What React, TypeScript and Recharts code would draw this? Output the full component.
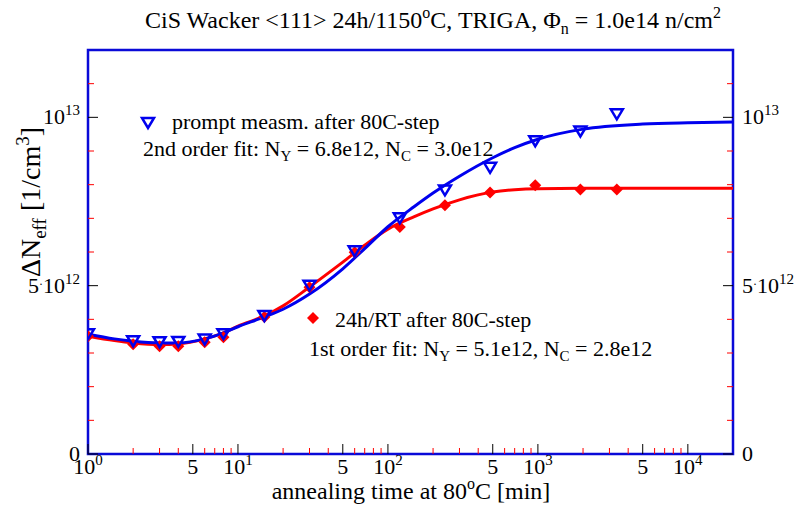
import React from 'react';
import { ComposedChart, Line, Scatter, XAxis, YAxis, ReferenceArea } from 'recharts';

// measurement times [min] at 80C
const annealTime = [1, 2, 3, 4, 6, 8, 15, 30, 60, 120, 240, 480, 960, 1920, 3360];
// prompt measurement after 80C step (triangles)
const promptNeff = [3.56e12, 3.35e12, 3.32e12, 3.33e12, 3.4e12, 3.56e12, 4.1e12, 5.0e12, 6.02e12, 7.0e12, 7.83e12, 8.5e12, 9.29e12, 9.58e12, 10.09e12];
// 24h at RT after 80C step (diamonds)
const rtNeff = [3.5e12, 3.26e12, 3.2e12, 3.2e12, 3.32e12, 3.47e12, 4.07e12, 4.95e12, 5.99e12, 6.74e12, 7.39e12, 7.77e12, 7.98e12, 7.86e12, 7.86e12];

// fit curves
const fitTime = [1, 1.5, 2, 3, 4, 6, 8, 10, 15, 20, 30, 50, 70, 100, 150, 200, 300, 500, 700, 1000, 2000, 5000, 10000, 20000];
const fit2nd = [3.56e12, 3.42e12, 3.35e12, 3.3e12, 3.3e12, 3.42e12, 3.6e12, 3.78e12, 4.07e12, 4.3e12, 4.75e12, 5.5e12, 6.1e12, 6.75e12, 7.35e12, 7.75e12, 8.25e12, 8.8e12, 9.1e12, 9.35e12, 9.65e12, 9.8e12, 9.84e12, 9.86e12];
const fit1st = [3.5e12, 3.37e12, 3.3e12, 3.25e12, 3.27e12, 3.42e12, 3.6e12, 3.8e12, 4.1e12, 4.4e12, 4.96e12, 5.7e12, 6.2e12, 6.68e12, 7.05e12, 7.28e12, 7.55e12, 7.78e12, 7.85e12, 7.88e12, 7.89e12, 7.89e12, 7.89e12, 7.89e12];

const xTicks = [1, 2, 3, 4, 5, 6, 7, 8, 9, 10, 20, 30, 40, 50, 60, 70, 80, 90, 100, 200, 300, 400, 500, 600, 700, 800, 900, 1000, 2000, 3000, 4000, 5000, 6000, 7000, 8000, 9000, 10000];
const xMajor = [1, 5, 10, 50, 100, 500, 1000, 5000, 10000];
const xExp: Record<number, string> = { 1: '0', 10: '1', 100: '2', 1000: '3', 10000: '4' };
const yTicks = [0, 1e12, 2e12, 3e12, 4e12, 5e12, 6e12, 7e12, 8e12, 9e12, 1e13, 1.1e13];

const FONT = '"Liberation Serif", "Times New Roman", serif';
const BLUE = '#0000ee';
const RED = '#ff0000';
const FRAME = '#0a0ad8';

const toPts = (xs: number[], ys: number[]) => xs.map((x, i) => ({ x, y: ys[i] }));
const promptData = toPts(annealTime, promptNeff);
const rtData = toPts(annealTime, rtNeff);
const fit2Data = toPts(fitTime, fit2nd);
const fit1Data = toPts(fitTime, fit1st);

const Tri = ({ cx, cy }: any) => (
  <path d={`M${cx - 6},${cy - 5} L${cx + 6},${cy - 5} L${cx},${cy + 5} Z`} fill="none" stroke={BLUE} strokeWidth={2.5} />
);
const Diamond = ({ cx, cy }: any) => (
  <path d={`M${cx},${cy - 6} L${cx + 6},${cy} L${cx},${cy + 6} L${cx - 6},${cy} Z`} fill={RED} stroke="none" />
);

const XTick = (props: any) => {
  const { x, y, payload } = props;
  const v = payload.value;
  const major = xMajor.includes(v);
  return (
    <g>
      <line x1={x} y1={y} x2={x} y2={y - (major ? 10 : 6)} stroke={major ? '#000' : RED} strokeWidth={1} />
      {major && (
        <text x={x} y={y + 20} textAnchor="middle" fontFamily={FONT} fontSize={22} fill="#000">
          {xExp[v] !== undefined ? (
            <>
              10<tspan dy={-9} fontSize={15}>{xExp[v]}</tspan>
            </>
          ) : '5'}
        </text>
      )}
    </g>
  );
};

const yLabel = (v: number) => {
  if (v === 0) return '0';
  if (v === 5e12) return (
    <>
      5<tspan fontSize={12} dy={-5}>·</tspan><tspan dy={5}>10</tspan><tspan dy={-9} fontSize={15}>12</tspan>
    </>
  );
  return (
    <>
      10<tspan dy={-9} fontSize={15}>13</tspan>
    </>
  );
};

const isMajorY = (v: number) => v === 0 || v === 5e12 || v === 1e13;

const LeftTick = (props: any) => {
  const { x, y, payload } = props;
  const major = isMajorY(payload.value);
  return (
    <g>
      <line x1={x} y1={y} x2={x + (major ? 10 : 6)} y2={y} stroke={major ? '#000' : RED} strokeWidth={1} />
      {major && (
        <text x={x - 8} y={y + 7} textAnchor="end" fontFamily={FONT} fontSize={22} fill="#000">
          {yLabel(payload.value)}
        </text>
      )}
    </g>
  );
};

const RightTick = (props: any) => {
  const { x, y, payload } = props;
  const major = isMajorY(payload.value);
  return (
    <g>
      <line x1={x} y1={y} x2={x - (major ? 10 : 6)} y2={y} stroke={major ? '#000' : RED} strokeWidth={1} />
      {major && (
        <text x={x + 9} y={y + 7} textAnchor="start" fontFamily={FONT} fontSize={22} fill="#000">
          {yLabel(payload.value)}
        </text>
      )}
    </g>
  );
};

export default function App() {
  return (
    <div style={{ position: 'absolute', left: 0, top: 0, width: 795, height: 508, background: '#fff' }}>
      <ComposedChart width={795} height={508} margin={{ top: 50, right: 0, bottom: 0, left: 0 }}>
        <XAxis
          dataKey="x"
          type="number"
          scale="log"
          domain={[1, 20000]}
          allowDataOverflow
          ticks={xTicks}
          interval={0}
          tickSize={0}
          tickMargin={0}
          tickLine={false}
          axisLine={false}
          tick={<XTick />}
          height={54}
        />
        <YAxis
          yAxisId="l"
          dataKey="y"
          type="number"
          domain={[0, 1.2e13]}
          allowDataOverflow
          ticks={yTicks}
          interval={0}
          tickSize={0}
          tickMargin={0}
          tickLine={false}
          axisLine={false}
          tick={<LeftTick />}
          width={88}
        />
        <YAxis
          yAxisId="r"
          orientation="right"
          type="number"
          domain={[0, 1.2e13]}
          allowDataOverflow
          ticks={yTicks}
          interval={0}
          tickSize={0}
          tickMargin={0}
          tickLine={false}
          axisLine={false}
          tick={<RightTick />}
          width={62}
        />
        <Line yAxisId="l" data={fit1Data} dataKey="y" type="monotone" stroke={RED} strokeWidth={3} dot={false} isAnimationActive={false} />
        <Line yAxisId="l" data={fit2Data} dataKey="y" type="monotone" stroke={BLUE} strokeWidth={3} dot={false} isAnimationActive={false} />
        <Scatter yAxisId="l" data={rtData} dataKey="y" shape={<Diamond />} isAnimationActive={false} />
        <Scatter yAxisId="l" data={promptData} dataKey="y" shape={<Tri />} isAnimationActive={false} />
        <ReferenceArea yAxisId="l" x1={1} x2={20000} y1={0} y2={1.2e13} fill="none" stroke={FRAME} strokeWidth={2.5} />

        <text x={433} y={28} textAnchor="middle" fontFamily={FONT} fontSize={24} fill="#000">
          CiS Wacker &lt;111&gt; 24h/1150<tspan dy={-10} fontSize={16}>o</tspan><tspan dy={10}>C, TRIGA, Φ</tspan>
          <tspan dy={6} fontSize={16}>n</tspan><tspan dy={-6}> = 1.0e14 n/cm</tspan><tspan dy={-10} fontSize={16}>2</tspan>
        </text>
        <text x={411} y={499} textAnchor="middle" fontFamily={FONT} fontSize={24} fill="#000">
          annealing time at 80<tspan dy={-10} fontSize={16}>o</tspan><tspan dy={10}>C [min]</tspan>
        </text>
        <text x={40} y={202} transform="rotate(-90 40 202)" textAnchor="middle" fontFamily={FONT} fontSize={28} fill="#000">
          ΔN<tspan dy={6} fontSize={19}>eff</tspan><tspan dy={-6}> [1/cm</tspan><tspan dy={-11} fontSize={19}>3</tspan><tspan dy={11}>]</tspan>
        </text>

        <Tri cx={148} cy={123} />
        <text x={172} y={129} fontFamily={FONT} fontSize={22} fill="#000">prompt measm. after 80C-step</text>
        <text x={143} y={156} fontFamily={FONT} fontSize={22} fill="#000">
          2nd order fit: N<tspan dy={5} fontSize={15}>Y</tspan><tspan dy={-5}> = 6.8e12, N</tspan><tspan dy={5} fontSize={15}>C</tspan><tspan dy={-5}> = 3.0e12</tspan>
        </text>
        <Diamond cx={313} cy={318} />
        <text x={335} y={327} fontFamily={FONT} fontSize={22} fill="#000">24h/RT after 80C-step</text>
        <text x={309} y={356} fontFamily={FONT} fontSize={22} fill="#000">
          1st order fit: N<tspan dy={5} fontSize={15}>Y</tspan><tspan dy={-5}> = 5.1e12, N</tspan><tspan dy={5} fontSize={15}>C</tspan><tspan dy={-5}> = 2.8e12</tspan>
        </text>
      </ComposedChart>
    </div>
  );
}
